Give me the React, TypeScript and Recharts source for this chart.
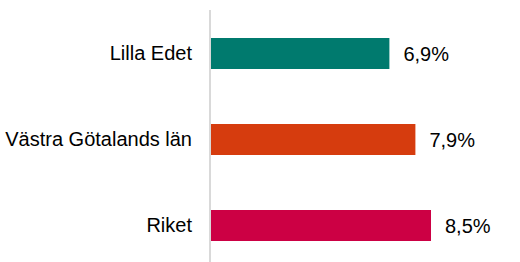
import { BarChart, Bar, XAxis, YAxis, Cell, LabelList } from "recharts";

const regions = ["Lilla Edet", "Västra Götalands län", "Riket"];
const shares = [6.9, 7.9, 8.5];
const colors = ["#007A6E", "#D63C0E", "#CC0044"];

const data = regions.map((name, i) => ({ name, value: shares[i] }));

const font = "'Liberation Sans', Arial, sans-serif";

export default function App() {
  return (
    <div style={{ position: "absolute", left: 0, top: 0, width: 520, height: 262, overflow: "hidden", background: "#fff" }}>
      <BarChart
        width={522}
        height={268}
        data={data}
        layout="vertical"
        margin={{ top: 10, right: 0, bottom: 0, left: 0 }}
        barSize={31}
      >
        <XAxis type="number" domain={[0, 12]} hide />
        <YAxis
          type="category"
          dataKey="name"
          width={210}
          axisLine={{ stroke: "#D9D9D9", strokeWidth: 2 }}
          tickLine={false}
          tickSize={0}
          tickMargin={18}
          tick={{ fill: "#000", fontSize: 20, fontFamily: font }}
        />
        <Bar dataKey="value" isAnimationActive={false}>
          {data.map((d, i) => (
            <Cell key={d.name} fill={colors[i]} />
          ))}
          <LabelList
            dataKey="value"
            position="right"
            offset={14}
            formatter={(v: number) => `${v.toFixed(1).replace(".", ",")}%`}
            style={{ fill: "#000", fontSize: 20, fontFamily: font }}
          />
        </Bar>
      </BarChart>
    </div>
  );
}
